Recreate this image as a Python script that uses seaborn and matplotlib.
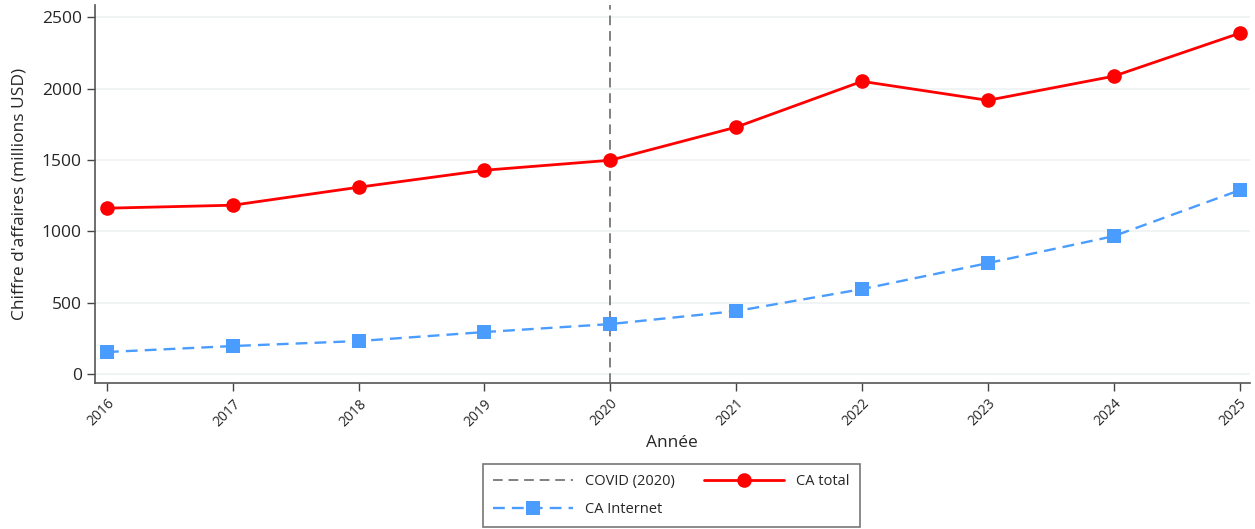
import pandas as pd
import matplotlib.pyplot as plt
import seaborn as sns

# Data
years = [2016, 2017, 2018, 2019, 2020, 2021, 2022, 2023, 2024, 2025]
ca_total = [1162, 1183, 1309, 1428, 1498, 1730, 2051, 1918, 2087, 2388]
ca_internet = [154, 196, 231, 294, 350, 441, 595, 777, 966, 1288]
covid_year = 2020
y_ticks = [0, 500, 1000, 1500, 2000, 2500]

df = pd.DataFrame({'annee': years, 'total': ca_total, 'internet': ca_internet})

sns.set_style('white')
plt.rcParams['font.family'] = ['Open Sans', 'DejaVu Sans']

fig = plt.figure(figsize=(12.55, 5.29), dpi=100)
ax = fig.add_axes([0.0757, 0.276, 0.920, 0.714])

# Horizontal grid
for t in y_ticks:
    ax.axhline(t, color='#eef2f4', lw=1.2, zorder=0)

ax.axvline(covid_year, color='#808080', ls=(0, (5, 3)), lw=1.4, zorder=1,
           label='COVID (2020)')

sns.lineplot(data=df, x='annee', y='total', ax=ax, color='#ff0000', lw=2,
             marker='o', markersize=10.5, markeredgewidth=0, label='CA total', zorder=3)
sns.lineplot(data=df, x='annee', y='internet', ax=ax, color='#4a9cff', lw=1.7,
             marker='s', markersize=10.5, markeredgewidth=0, label='CA Internet', zorder=3)
ax.lines[-1].set_dashes((5, 3))

ax.set_xlim(2015.905, 2025.08)
ax.set_ylim(-63, 2584)
ax.set_xticks(years)
ax.set_xticklabels([str(y) for y in years], rotation=45, ha='right',
                   rotation_mode='anchor', fontsize=10)
ax.set_yticks(y_ticks)
ax.tick_params(axis='y', labelsize=12.5, length=6, width=1, color='#444444', direction='out', left=True)
ax.tick_params(axis='x', length=6, width=1, color='#444444', direction='out', bottom=True)

for side in ['top', 'right']:
    ax.spines[side].set_visible(False)
for side in ['left', 'bottom']:
    ax.spines[side].set_color('#555555')
    ax.spines[side].set_linewidth(1.2)

ax.set_xlabel('Année', fontsize=12.5, labelpad=4)
ax.set_ylabel("Chiffre d'affaires (millions USD)", fontsize=12.5, labelpad=10)

handles, labels = ax.get_legend_handles_labels()
ax.get_legend().remove()
order = [labels.index('COVID (2020)'), labels.index('CA Internet'), labels.index('CA total')]
leg = fig.legend([handles[i] for i in order], [labels[i] for i in order],
                 loc='upper center', bbox_to_anchor=(0.535, 0.123), ncol=2,
                 fontsize=10.5, frameon=True, fancybox=False, handlelength=5.5,
                 columnspacing=2.0, borderpad=0.7, labelspacing=0.9,
                 borderaxespad=0)
leg.get_frame().set_edgecolor('#555555')
leg.get_frame().set_linewidth(1.2)

fig.savefig('out.png', dpi=100)
